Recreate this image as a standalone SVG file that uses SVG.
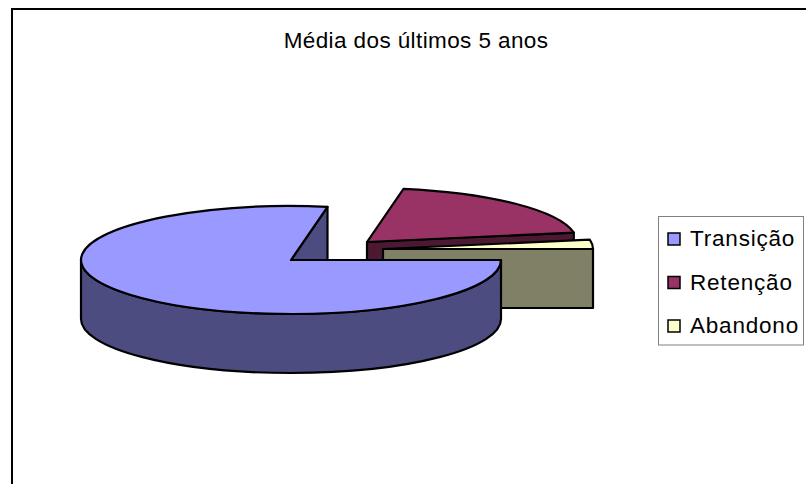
<svg xmlns="http://www.w3.org/2000/svg" width="806" height="484" viewBox="0 0 806 484">
<style>
.edge{stroke:#000;stroke-width:2.2;stroke-linejoin:round}
.txt{font-family:"Liberation Sans",Arial,sans-serif;fill:#000}
.title{font-size:22.5px;letter-spacing:0.4px}
.leg{font-size:22.5px;letter-spacing:0.8px}
.mk{stroke:#000;stroke-width:1.5}
</style>
<rect x="0" y="0" width="806" height="484" fill="#fff"/>
<rect x="12" y="9" width="830" height="500" fill="#fff" stroke="#000" stroke-width="2"/>
<text class="txt title" x="416" y="48" text-anchor="middle">Média dos últimos 5 anos</text>
<g id="slice-retencao">
<path class="edge" fill="#4C1933" d="M367,242 L573.8,232.6 L573.8,291.6 L367,301 Z"/>
<path class="edge" fill="#993366" d="M367,242 L573.8,232.6 A210,54 0 0 0 403.5,188.8 Z"/>
</g>
<g id="slice-abandono">
<path class="edge" fill="#808066" d="M383,249 L593,249 L593,308 L383,308 Z"/>
<path class="edge" fill="#FFFFCC" d="M383,249 L593,249 A210,54 0 0 0 589.8,239.6 Z"/>
</g>
<g id="slice-transicao">
<path class="edge" fill="#4C4C80" d="M291,260 L327.5,206.8 L327.5,265.8 L291,319 Z"/>
<path class="edge" fill="#4C4C80" d="M81,260 A210,54 0 0 0 501,260 L501,319 A210,54 0 0 1 81,319 Z"/>
<path class="edge" fill="#9999FF" d="M291,260 L501,260 A210,54 0 1 1 327.5,206.8 Z"/>
</g>
<g id="legend">
<rect x="658.5" y="216.5" width="145" height="128.5" fill="#fff" stroke="#808080" stroke-width="1"/>
<rect class="mk" x="668" y="233" width="12" height="12" fill="#9999FF"/>
<text class="txt leg" x="690" y="246">Transição</text>
<rect class="mk" x="668" y="276.5" width="12" height="12" fill="#993366"/>
<text class="txt leg" x="690" y="289.5">Retenção</text>
<rect class="mk" x="668" y="320" width="12" height="12" fill="#FFFFCC"/>
<text class="txt leg" x="690" y="333">Abandono</text>
</g>
<g id="connectors"></g>
</svg>
